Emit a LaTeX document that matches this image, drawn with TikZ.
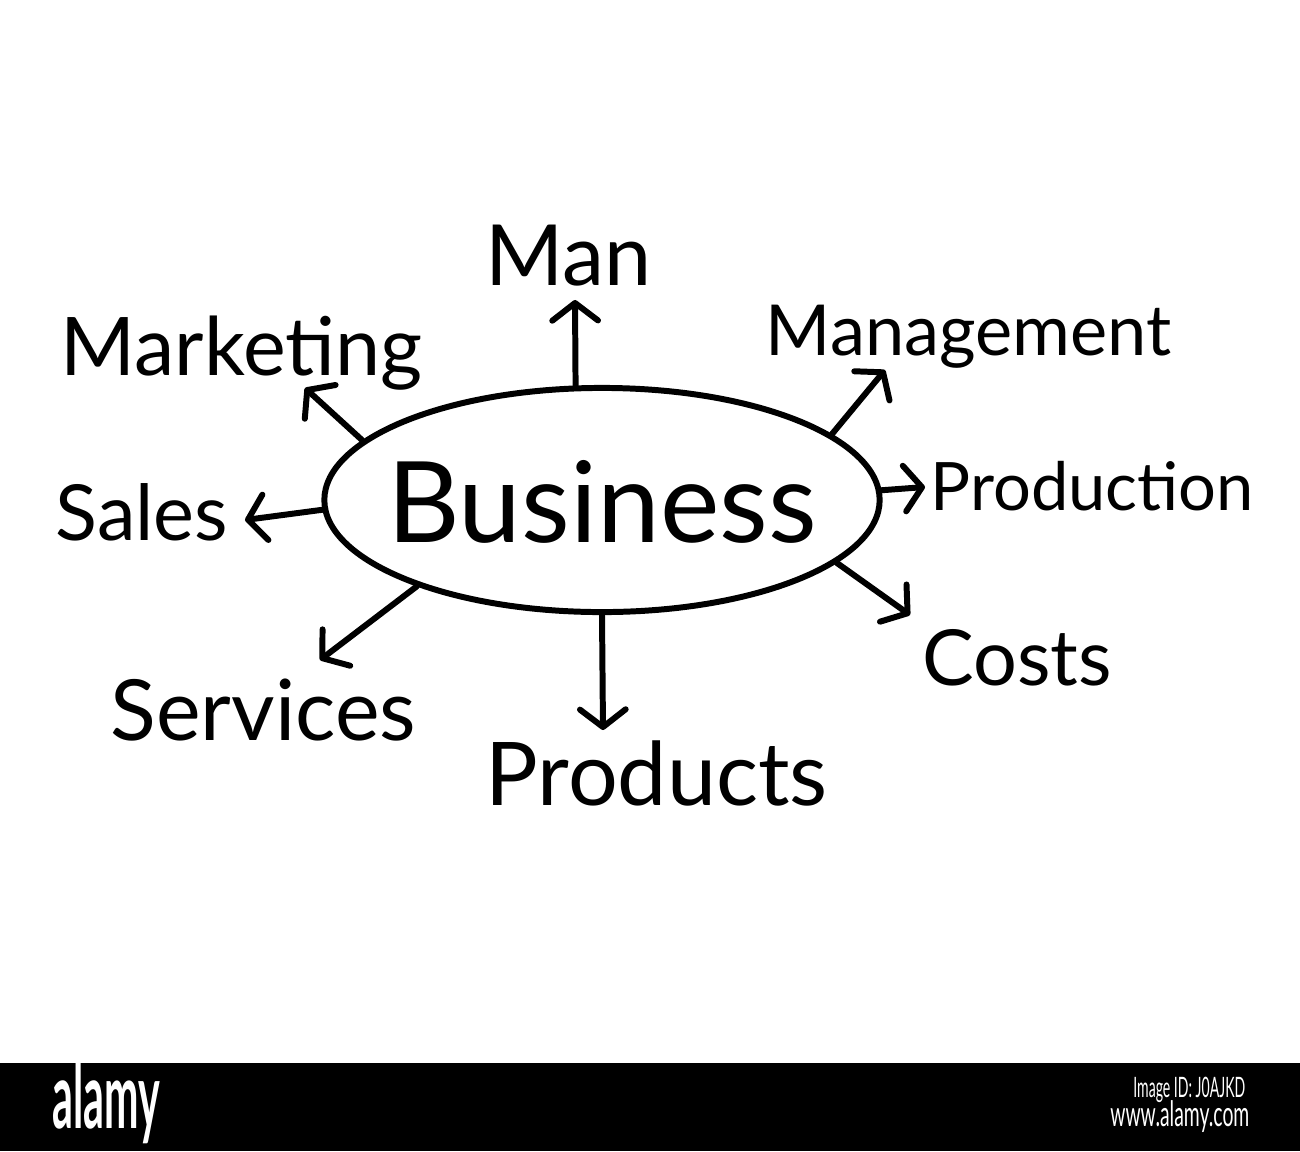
\documentclass[tikz,border=0pt]{standalone}
\usepackage{fontspec}
\setmainfont{Lato}
\usetikzlibrary{shapes.geometric, arrows.meta}

\tikzset{
  lbl/.style={font=\fontsize{#1}{#1}\selectfont, anchor=base west, inner sep=0pt},
  arr/.style={-{Straight Barb[length=5pt,width=13pt,line cap=round,line join=round]}, line width=1.7pt, line cap=round},
}

\begin{document}
\begin{tikzpicture}[x=0.01cm, y=-0.01cm]
        \useasboundingbox (0,0) rectangle (1300,1151);

        \node (biz) [draw, ellipse, line width=1.7pt, minimum width=5.55cm, minimum height=2.24cm,
                     inner sep=0pt] at (602,500) {};
        \node (biztext) [font=\fontsize{32}{32}\selectfont, inner sep=0pt] at (602,502) {Business};

        \node (man) [lbl=24] at (485,285) {Man};
        \node (marketing) [lbl=23] at (60,375) {Marketing};
        \node (management) [lbl=20] at (765,355) {Management};
        \node (production) [lbl=19] at (930,510) {Production};
        \node (sales) [lbl=22] at (55,540) {Sales};
        \node (costs) [lbl=22] at (922,685) {Costs};
        \node (services) [lbl=24] at (110,740) {Services};
        \node (products) [lbl=25] at (485,805) {Products};

        % arrow ends
        \coordinate (toman) at (575,300);
        \coordinate (tomarketing) at (305,388);
        \coordinate (tomanagement) at (885,370);
        \coordinate (toproduction) at (925,487);
        \coordinate (tosales) at (245,520);
        \coordinate (tocosts) at (910,615);
        \coordinate (toservices) at (320,660);
        \coordinate (toproducts) at (603,730);

        \draw[arr] (biz.103) -- (toman);
        \draw[arr] (biz.166) -- (tomarketing);
        \draw[arr] (biz.16) -- (tomanagement);
        \draw[arr] (biz.2) -- (toproduction);
        \draw[arr] (biz.182) -- (tosales);
        \draw[arr] (biz.345) -- (tocosts);
        \draw[arr] (biz.205) -- (toservices);
        \draw[arr] (biz.270) -- (toproducts);

        % stock bar
        \fill[black] (0,1063) rectangle (1300,1151);
        \node (alamy) [anchor=west, text=white, inner sep=0pt, font=\bfseries\fontsize{26}{26}\selectfont] at (52,1102) {\scalebox{0.45}[1]{alamy}};
        \node (imgid) [anchor=east, text=white, inner sep=0pt, font=\fontsize{8}{8}\selectfont] at (1246,1090) {\scalebox{0.5}[1]{Image ID: J0AJKD}};
        \node (url) [anchor=east, text=white, inner sep=0pt, font=\fontsize{10}{10}\selectfont] at (1250,1117) {\scalebox{0.55}[1]{www.alamy.com}};
    \end{tikzpicture}
\end{document}
